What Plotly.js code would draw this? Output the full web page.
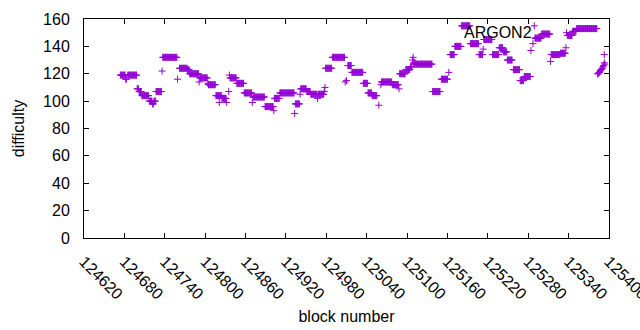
<!DOCTYPE html>
<html>
<head>
<meta charset="utf-8">
<script src="https://cdn.plot.ly/plotly-3.0.1.min.js"></script>
<style>html,body{margin:0;padding:0;background:#fff;}#chart{width:640px;height:330px;}</style>
</head>
<body>
<div id="chart"></div>
<script>
// Runs of consecutive blocks sharing one difficulty value
var runStart = [124674,124682,124685,124699,124702,124706,124717,124722,124724,124727,124736,124737,124759,124762,124774,124777,124791,124792,124804,124805,124816,124821,124825,124832,124835,124836,124837,124847,124858,124870,124871,124889,124902,124903,124911,124933,124934,124941,124942,124951,124957,124967,124968,124977,124978,124979,124989,125008,125010,125012,125018,125035,125042,125048,125058,125061,125062,125078,125088,125089,125098,125105,125108,125109,125110,125112,125138,125151,125162,125164,125171,125181,125194,125207,125213,125214,125227,125237,125243,125249,125258,125268,125274,125284,125287,125289,125290,125300,125313,125314,125328,125336,125337,125338,125346,125352,125383,125385,125387,125388,125390,125391,125392,125393,125393,125394];
var runEnd   = [124681,124683,124698,124701,124705,124716,124721,124723,124726,124735,124736,124758,124759,124773,124776,124790,124791,124803,124804,124815,124824,124821,124831,124832,124835,124836,124846,124857,124869,124870,124888,124901,124902,124910,124932,124933,124940,124941,124950,124956,124966,124967,124976,124977,124978,124988,125007,125008,125010,125017,125034,125041,125047,125055,125058,125061,125077,125087,125088,125097,125104,125107,125108,125109,125111,125137,125149,125160,125162,125170,125180,125193,125206,125212,125213,125226,125236,125242,125248,125256,125267,125273,125283,125284,125287,125289,125299,125312,125313,125327,125335,125336,125337,125345,125351,125382,125384,125386,125387,125389,125390,125391,125392,125393,125393,125394];
var runDifficulty = [119,116,119,109,107,104,100,98,100,107,122,132,116,124,123,120,114,117,113,112,104,99,102,99,107,119,117,113,106,99,103,96,93,102,106,91,98,105,109,107,105,102,105,107,110,124,132,114,115,126,121,113,106,104,97,112,114,112,109,120,123,125,130,132,128,127,107,116,121,134,140,155,142,134,138,145,134,139,136,130,123,115,118,137,142,155,146,149,129,134,135,139,150,148,151,153,120,121,122,123,124,125,126,128,134,127];

var xTickVals = [124620,124680,124740,124800,124860,124920,124980,125040,125100,125160,125220,125280,125340,125400];
var yTickVals = [0,20,40,60,80,100,120,140,160];
var seriesName = "ARGON2";

var blocks = [], diffs = [];
for (var i = 0; i < runStart.length; i++) {
  for (var b = runStart[i]; b <= runEnd[i]; b++) { blocks.push(b); diffs.push(runDifficulty[i]); }
}

var purple = "#9400D3";
var font = {family: "Liberation Sans, Arial, sans-serif", size: 16, color: "#000"};

var trace = {
  x: blocks, y: diffs, type: "scatter", mode: "markers", name: seriesName,
  marker: {symbol: "cross-thin", size: 5, color: purple, line: {width: 1, color: purple}},
  hoverinfo: "x+y"
};

var layout = {
  width: 640, height: 330,
  margin: {l: 84, r: 31, t: 19, b: 92},
  paper_bgcolor: "#fff", plot_bgcolor: "#fff",
  showlegend: false,
  font: font,
  xaxis: {
    range: [124620, 125400], tickvals: xTickVals, ticktext: xTickVals.map(String),
    tickangle: 45, ticks: "inside", ticklen: 5, tickcolor: "#000",
    showline: true, linecolor: "#000", linewidth: 1, mirror: "ticks",
    showgrid: false, zeroline: false, tickfont: font,
    ticklabelstandoff: 7, ticklabeloverflow: "allow",
    title: {text: "block number", font: font, standoff: 8},
    automargin: false
  },
  yaxis: {
    range: [0, 160], tickvals: yTickVals, ticks: "inside", ticklen: 5, tickcolor: "#000",
    showline: true, linecolor: "#000", linewidth: 1, mirror: "ticks",
    showgrid: false, zeroline: false, tickfont: font,
    ticklabelstandoff: 10,
    title: {text: "difficulty", font: font, standoff: 14},
    automargin: false
  },
  annotations: [{
    text: seriesName, xref: "paper", yref: "paper",
    x: (534 - 84) / 525, y: (238 - 32) / 219, xanchor: "right", yanchor: "middle",
    showarrow: false, font: font
  }]
};

Plotly.newPlot("chart", [trace], layout, {displayModeBar: false, staticPlot: true});
</script>
</body>
</html>
